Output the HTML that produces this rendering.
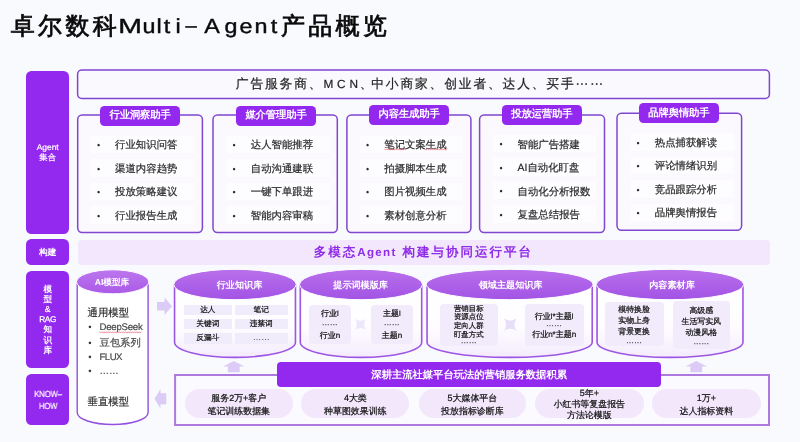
<!DOCTYPE html>
<html><head><meta charset="utf-8">
<style>
html,body{margin:0;padding:0;}
body{width:800px;height:442px;overflow:hidden;background:#f9fafe;font-family:"Liberation Sans",sans-serif;position:relative;color:#111;text-rendering:geometricPrecision;}
.abs{position:absolute;}
.title{position:absolute;left:10px;top:8.5px;font-size:26px;line-height:34px;letter-spacing:1.2px;color:#0a0a0a;white-space:nowrap;-webkit-text-stroke:0.35px #0a0a0a;}
.title .en{letter-spacing:2.5px;}
.side{position:absolute;left:26.4px;width:42.6px;background:#9329ee;-webkit-text-stroke:0.2px #fff;border-radius:5.5px;color:#fff;font-size:8.4px;font-weight:normal;display:flex;align-items:center;justify-content:center;text-align:center;line-height:10.5px;}
.topbox{position:absolute;left:76.8px;top:69.8px;width:690.5px;height:26.2px;border:1.8px solid transparent;border-radius:6px;background:transparent;display:flex;align-items:center;justify-content:center;font-size:12.8px;letter-spacing:1.8px;color:#222;-webkit-text-stroke:0.2px #222;white-space:nowrap;box-sizing:content-box;}
.card{display:none;}
.hdr{position:absolute;background:#9329ee;color:#fff;font-weight:bold;font-size:10.4px;border-radius:4.5px;display:flex;align-items:center;justify-content:center;white-space:nowrap;letter-spacing:-0.2px;}
.row{position:absolute;background:#fdfdff;height:17.5px;font-size:10.4px;line-height:17.5px;color:#2a2a2a;white-space:nowrap;}
.row u{text-decoration:none;}
.row .b{position:absolute;left:6px;top:1.6px;font-size:9px;}
.row .t{position:absolute;left:24.2px;top:1.8px;-webkit-text-stroke:0.2px #2a2a2a;}
.build{position:absolute;left:78px;top:240.2px;width:692px;height:25.3px;padding-bottom:0.8px;padding-right:1.4px;box-sizing:border-box;background:#f3e7fd;border-radius:4px;display:flex;align-items:center;justify-content:center;color:#8f2ce8;font-weight:bold;font-size:12.5px;letter-spacing:2px;white-space:nowrap;}
.cyt{position:absolute;color:#fff;font-weight:bold;font-size:10px;text-align:center;white-space:nowrap;line-height:12px;letter-spacing:0;}
.cell{position:absolute;background:#f1ecfb;font-size:7.7px;font-weight:normal;-webkit-text-stroke:0.22px #111;color:#111;text-align:center;white-space:nowrap;}
.panel{position:absolute;background:#f2ebfb;border-radius:4px;font-size:8.3px;font-weight:normal;-webkit-text-stroke:0.22px #111;color:#111;text-align:center;white-space:nowrap;}
.panel div{position:absolute;left:0;right:0;text-align:center;line-height:10px;}
.kh{display:none;}
.banner{position:absolute;left:277px;top:361.5px;width:384.3px;height:25.2px;background:#9329ee;border-radius:4px;color:#fff;font-weight:bold;font-size:10.3px;display:flex;align-items:center;justify-content:center;white-space:nowrap;letter-spacing:0px;padding-top:3.6px;box-sizing:border-box;}
.pill{position:absolute;background:#f2e7fb;border-radius:15px;font-size:8.95px;font-weight:normal;-webkit-text-stroke:0.22px #111;color:#111;text-align:center;white-space:nowrap;}
.pill div{position:absolute;left:0;right:0;text-align:center;line-height:12px;}
.m{position:absolute;font-size:10.5px;color:#444;white-space:nowrap;line-height:14px;}
</style></head><body><div id="wrap" style="position:absolute;left:0;top:0;width:800px;height:442px;will-change:transform;">

<div class="title" style="font-size:24px;letter-spacing:3.3px;left:10.8px;top:10.2px;-webkit-text-stroke:0.75px #0a0a0a;">卓尔数科</div>
<div class="title" style="left:115px;top:9.9px;width:30px;text-align:center;letter-spacing:0;font-size:20.3px;-webkit-text-stroke:0.4px #0a0a0a;transform:scaleX(1.4);">M</div>
<div class="title" style="left:133.75px;top:9.9px;width:30px;text-align:center;letter-spacing:0;font-size:20.3px;-webkit-text-stroke:0.4px #0a0a0a;transform:scaleX(1.15);">u</div>
<div class="title" style="left:144px;top:9.9px;width:30px;text-align:center;letter-spacing:0;font-size:20.3px;-webkit-text-stroke:0.4px #0a0a0a;transform:scaleX(1.15);">l</div>
<div class="title" style="left:152.4px;top:9.9px;width:30px;text-align:center;letter-spacing:0;font-size:20.3px;-webkit-text-stroke:0.4px #0a0a0a;transform:scaleX(1.15);">t</div>
<div class="title" style="left:162.5px;top:9.9px;width:30px;text-align:center;letter-spacing:0;font-size:20.3px;-webkit-text-stroke:0.4px #0a0a0a;transform:scaleX(1.15);">i</div>
<div class="title" style="left:176.25px;top:8.9px;width:30px;text-align:center;letter-spacing:0;font-size:20.3px;-webkit-text-stroke:0.4px #0a0a0a;transform:scaleX(1.0);">–</div>
<div class="title" style="left:196.9px;top:9.9px;width:30px;text-align:center;letter-spacing:0;font-size:20.3px;-webkit-text-stroke:0.4px #0a0a0a;transform:scaleX(1.15);">A</div>
<div class="title" style="left:215.5px;top:9.9px;width:30px;text-align:center;letter-spacing:0;font-size:20.3px;-webkit-text-stroke:0.4px #0a0a0a;transform:scaleX(1.15);">g</div>
<div class="title" style="left:230.5px;top:9.9px;width:30px;text-align:center;letter-spacing:0;font-size:20.3px;-webkit-text-stroke:0.4px #0a0a0a;transform:scaleX(1.15);">e</div>
<div class="title" style="left:246px;top:9.9px;width:30px;text-align:center;letter-spacing:0;font-size:20.3px;-webkit-text-stroke:0.4px #0a0a0a;transform:scaleX(1.15);">n</div>
<div class="title" style="left:258.75px;top:9.9px;width:30px;text-align:center;letter-spacing:0;font-size:20.3px;-webkit-text-stroke:0.4px #0a0a0a;transform:scaleX(1.15);">t</div>
<div class="title" style="font-size:24px;letter-spacing:3.3px;left:281px;top:10.2px;-webkit-text-stroke:0.75px #0a0a0a;">产品概览</div>
<svg class="abs" style="left:0;top:0;" width="800" height="442" viewBox="0 0 800 442">
<rect x="77.6" y="70.1" width="691.8" height="28.3" rx="4.2" fill="#f9f9fe" stroke="#8046cf" stroke-width="1.5"/>
<rect x="77.7" y="114.9" width="124.7" height="117.5" rx="4.4" fill="#fbf9fe" stroke="#8046cf" stroke-width="1.5"/>
<rect x="213" y="114.9" width="124.3" height="117.5" rx="4.4" fill="#fbf9fe" stroke="#8046cf" stroke-width="1.5"/>
<rect x="346.9" y="114.9" width="124.0" height="117.5" rx="4.4" fill="#fbf9fe" stroke="#8046cf" stroke-width="1.5"/>
<rect x="479.6" y="114.9" width="124.9" height="117.5" rx="4.4" fill="#fbf9fe" stroke="#8046cf" stroke-width="1.5"/>
<rect x="617" y="113.2" width="124.6" height="117.0" rx="4.4" fill="#fbf9fe" stroke="#8046cf" stroke-width="1.5"/>
<rect x="175.1" y="375" width="593.9" height="50" fill="#fbfaff" stroke="#af78dc" stroke-width="2"/>
</svg>
<div class="side" style="top:70.5px;height:163px;">Agent<br>集合</div>
<div class="side" style="top:239px;height:25.9px;font-weight:bold;-webkit-text-stroke:0;font-size:8.7px;">构建</div>
<div class="side" style="top:271px;height:96.5px;line-height:10.2px;font-size:8.6px;font-weight:bold;-webkit-text-stroke:0;"><div>模<br>型<br><span style="font-weight:normal;-webkit-text-stroke:0.25px #fff;">&amp;</span><br><span style="font-weight:normal;-webkit-text-stroke:0.25px #fff;font-size:8.3px;letter-spacing:-0.35px;">RAG</span><br>知<br>识<br>库</div></div>
<div class="side" style="top:373.5px;height:51px;line-height:12.3px;font-size:8.8px;letter-spacing:0;padding-top:2.2px;box-sizing:border-box;"><span style="display:inline-block;transform:scaleX(0.86);">KNOW–<br>HOW</span></div>
<div class="topbox"><span style="position:absolute;left:158px;top:0;line-height:26.6px;">广告服务商、<span style="font-size:11.8px;letter-spacing:3.9px;">MCN</span><span style="margin-left:-2.2px;margin-right:-3.2px;">、</span>中小商家、创业者、达人、买手⋯⋯</span></div>
<div class="card" style="left:77.3px;top:114.5px;width:125.5px;height:118.3px;"></div>
<div class="hdr" style="left:100.4px;top:105.5px;width:79.4px;height:20.1px;padding-top:0.6px;box-sizing:border-box;">行业洞察助手</div>
<div class="row" style="left:90.9px;top:135.7px;width:103px;"><span class="b">•</span><span class="t">行业知识问答</span></div>
<div class="row" style="left:90.9px;top:159.2px;width:103px;"><span class="b">•</span><span class="t">渠道内容趋势</span></div>
<div class="row" style="left:90.9px;top:182.7px;width:103px;"><span class="b">•</span><span class="t">投放策略建议</span></div>
<div class="row" style="left:90.9px;top:206.2px;width:103px;"><span class="b">•</span><span class="t">行业报告生成</span></div>
<div class="card" style="left:213px;top:114.5px;width:124.3px;height:118.3px;"></div>
<div class="hdr" style="left:236px;top:105.5px;width:80.0px;height:20.1px;padding-top:0.6px;box-sizing:border-box;">媒介管理助手</div>
<div class="row" style="left:226.6px;top:135.7px;width:103px;"><span class="b">•</span><span class="t">达人智能推荐</span></div>
<div class="row" style="left:226.6px;top:159.2px;width:103px;"><span class="b">•</span><span class="t">自动沟通建联</span></div>
<div class="row" style="left:226.6px;top:182.7px;width:103px;"><span class="b">•</span><span class="t">一键下单跟进</span></div>
<div class="row" style="left:226.6px;top:206.2px;width:103px;"><span class="b">•</span><span class="t">智能内容审稿</span></div>
<div class="card" style="left:346.5px;top:114.5px;width:124.5px;height:118.3px;"></div>
<div class="hdr" style="left:369.0px;top:104.5px;width:80.2px;height:20.1px;padding-top:0.6px;box-sizing:border-box;">内容生成助手</div>
<div class="row" style="left:360.1px;top:135.7px;width:103px;"><span class="b">•</span><span class="t"><u>笔记</u>文案<u>生成</u></span></div>
<div class="row" style="left:360.1px;top:159.2px;width:103px;"><span class="b">•</span><span class="t">拍摄脚本生成</span></div>
<div class="row" style="left:360.1px;top:182.7px;width:103px;"><span class="b">•</span><span class="t">图片视频生成</span></div>
<div class="row" style="left:360.1px;top:206.2px;width:103px;"><span class="b">•</span><span class="t">素材创意分析</span></div>
<div class="card" style="left:479.8px;top:114.5px;width:124.8px;height:118.3px;"></div>
<div class="hdr" style="left:501.7px;top:104.5px;width:80.2px;height:20.1px;padding-top:0.6px;box-sizing:border-box;">投放运营助手</div>
<div class="row" style="left:493.4px;top:134.9px;width:103px;"><span class="b">•</span><span class="t">智能广告搭建</span></div>
<div class="row" style="left:493.4px;top:158.4px;width:103px;"><span class="b">•</span><span class="t">AI自动化盯盘</span></div>
<div class="row" style="left:493.4px;top:181.9px;width:103px;"><span class="b">•</span><span class="t">自动化分析报数</span></div>
<div class="row" style="left:493.4px;top:205.4px;width:103px;"><span class="b">•</span><span class="t">复盘总结报告</span></div>
<div class="card" style="left:617px;top:112.8px;width:125.0px;height:117.6px;"></div>
<div class="hdr" style="left:638.9px;top:103.0px;width:80.1px;height:20.3px;padding-top:2.0px;box-sizing:border-box;">品牌舆情助手</div>
<div class="row" style="left:630.6px;top:133.2px;width:103px;"><span class="b">•</span><span class="t">热点捕获解读</span></div>
<div class="row" style="left:630.6px;top:156.7px;width:103px;"><span class="b">•</span><span class="t">评论情绪识别</span></div>
<div class="row" style="left:630.6px;top:180.2px;width:103px;"><span class="b">•</span><span class="t">竞品跟踪分析</span></div>
<div class="row" style="left:630.6px;top:203.7px;width:103px;"><span class="b">•</span><span class="t">品牌舆情报告</span></div>
<div class="build">多模态<span style="font-size:11.6px;letter-spacing:1.3px;margin-right:5.8px;">Agent</span>构建与协同运行平台</div>
<svg class="abs" style="left:0;top:0;" width="800" height="442" viewBox="0 0 800 442">
<defs>
<linearGradient id="eg" x1="0" y1="0" x2="0" y2="1"><stop offset="0" stop-color="#b970ec"/><stop offset="1" stop-color="#a253e5"/></linearGradient>
<linearGradient id="eg1" x1="0" y1="0" x2="0" y2="1"><stop offset="0" stop-color="#bc76ed"/><stop offset="1" stop-color="#aa5ae7"/></linearGradient>
<linearGradient id="bg" x1="0" y1="0" x2="0" y2="1"><stop offset="0" stop-color="#ffffff"/><stop offset="0.6" stop-color="#fefcff"/><stop offset="1" stop-color="#f4ebfd"/></linearGradient>
</defs>
<path d="M77.2,281.8 L77.2,412.5 A35.45,12.0 0 0 0 148.10000000000002,412.5 L148.10000000000002,281.8 Z" fill="#ffffff" stroke="none"/>
<path d="M77.2,281.8 L77.2,412.5 A35.45,12.0 0 0 0 148.10000000000002,412.5 L148.10000000000002,281.8" fill="none" stroke="#9150de" stroke-width="1.4"/>
<ellipse cx="112.65" cy="281.8" rx="36.150000000000006" ry="12.0" fill="url(#eg1)" stroke="#ffffff" stroke-width="1"/>
<path d="M174.55,284.5 L174.55,342.2 A60.45,15.199999999999989 0 0 0 295.45,342.2 L295.45,284.5 Z" fill="url(#bg)" stroke="none"/>
<path d="M174.55,284.5 L174.55,342.2 A60.45,15.199999999999989 0 0 0 295.45,342.2 L295.45,284.5" fill="none" stroke="#9d55e3" stroke-width="1.6"/>
<ellipse cx="235.0" cy="284.5" rx="61.25" ry="15.199999999999989" fill="url(#eg)" stroke="#ffffff" stroke-width="1"/>
<path d="M300.3,284.5 L300.3,342.2 A60.7,15.199999999999989 0 0 0 421.7,342.2 L421.7,284.5 Z" fill="url(#bg)" stroke="none"/>
<path d="M300.3,284.5 L300.3,342.2 A60.7,15.199999999999989 0 0 0 421.7,342.2 L421.7,284.5" fill="none" stroke="#9d55e3" stroke-width="1.6"/>
<ellipse cx="361.0" cy="284.5" rx="61.5" ry="15.199999999999989" fill="url(#eg)" stroke="#ffffff" stroke-width="1"/>
<path d="M427.05,284.5 L427.05,342.2 A82.575,15.199999999999989 0 0 0 592.2,342.2 L592.2,284.5 Z" fill="url(#bg)" stroke="none"/>
<path d="M427.05,284.5 L427.05,342.2 A82.575,15.199999999999989 0 0 0 592.2,342.2 L592.2,284.5" fill="none" stroke="#9d55e3" stroke-width="1.6"/>
<ellipse cx="509.625" cy="284.5" rx="83.375" ry="15.199999999999989" fill="url(#eg)" stroke="#ffffff" stroke-width="1"/>
<path d="M597.05,284.5 L597.05,342.2 A72.95,15.199999999999989 0 0 0 742.95,342.2 L742.95,284.5 Z" fill="url(#bg)" stroke="none"/>
<path d="M597.05,284.5 L597.05,342.2 A72.95,15.199999999999989 0 0 0 742.95,342.2 L742.95,284.5" fill="none" stroke="#9d55e3" stroke-width="1.6"/>
<ellipse cx="670.0" cy="284.5" rx="73.75" ry="15.199999999999989" fill="url(#eg)" stroke="#ffffff" stroke-width="1"/>
<path d="M157,302 L164.5,302 L164.5,297.5 L172,306.3 L164.5,315 L164.5,310.5 L157,310.5 Z" fill="#dbcbf6"/>
<path d="M233.75,361 L244.55,366.5 L239.65,366.5 L239.65,372.2 L227.85,372.2 L227.85,366.5 L222.95,366.5 Z" fill="#dbcbf6"/>
<path d="M696.3,361 L707.0999999999999,366.5 L702.1999999999999,366.5 L702.1999999999999,372.2 L690.4,372.2 L690.4,366.5 L685.5,366.5 Z" fill="#dbcbf6"/>
<path d="M154.5,398.8 L160.5,389 L160.5,393.3 L166.3,393.3 L166.3,404.3 L160.5,404.3 L160.5,408.6 Z" fill="#dbcbf6"/>
<path d="M354.9,318.7 Q360.5,322.62 366.1,318.7 Q362.18,324.3 366.1,329.90000000000003 Q360.5,325.98 354.9,329.90000000000003 Q358.82,324.3 354.9,318.7 Z" fill="#ece7fa"/>
<path d="M503.90000000000003,318.20000000000005 Q510.3,322.68 516.7,318.20000000000005 Q512.22,324.6 516.7,331.0 Q510.3,326.52000000000004 503.90000000000003,331.0 Q508.38,324.6 503.90000000000003,318.20000000000005 Z" fill="#e7dff7"/>
<polyline points="99.50,331.70 100.60,333.10 101.70,331.70 102.80,333.10 103.90,331.70 105.00,333.10 106.10,331.70 107.20,333.10 108.30,331.70 109.40,333.10 110.50,331.70 111.60,333.10 112.70,331.70 113.80,333.10 114.90,331.70 116.00,333.10 117.10,331.70 118.20,333.10 119.30,331.70 120.40,333.10 121.50,331.70 122.60,333.10 123.70,331.70 124.80,333.10 125.90,331.70 127.00,333.10 128.10,331.70 129.20,333.10 130.30,331.70 131.40,333.10 132.50,331.70 133.60,333.10 134.70,331.70 135.80,333.10 136.90,331.70 138.00,333.10 139.10,331.70 140.20,333.10 141.30,331.70" fill="none" stroke="#e9586e" stroke-width="0.6"/>
<polyline points="384.50,148.70 385.60,150.10 386.70,148.70 387.80,150.10 388.90,148.70 390.00,150.10 391.10,148.70 392.20,150.10 393.30,148.70 394.40,150.10 395.50,148.70 396.60,150.10 397.70,148.70 398.80,150.10 399.90,148.70 401.00,150.10 402.10,148.70 403.20,150.10 404.30,148.70 405.40,150.10" fill="none" stroke="#e9586e" stroke-width="0.6"/>
<polyline points="425.00,148.70 426.10,150.10 427.20,148.70 428.30,150.10 429.40,148.70 430.50,150.10 431.60,148.70 432.70,150.10 433.80,148.70 434.90,150.10 436.00,148.70 437.10,150.10 438.20,148.70 439.30,150.10 440.40,148.70 441.50,150.10 442.60,148.70 443.70,150.10 444.80,148.70 445.90,150.10 447.00,148.70" fill="none" stroke="#e9586e" stroke-width="0.6"/>
</svg>
<div class="cyt" style="left:51.900000000000006px;width:120px;top:276px;font-size:8.6px;">AI模型库</div>
<div class="cyt" style="left:179.5px;width:120px;top:278.5px;font-size:9.1px;">行业知识库</div>
<div class="cyt" style="left:300.6px;width:120px;top:278.5px;font-size:9.1px;">提示词模版库</div>
<div class="cyt" style="left:450.6px;width:120px;top:278.5px;font-size:9.1px;">领域主题知识库</div>
<div class="cyt" style="left:612px;width:120px;top:278.5px;font-size:9.1px;">内容素材库</div>
<div class="m" style="left:87.5px;top:306.5px;font-size:10.4px;color:#2e2e2e;-webkit-text-stroke:0.2px #2e2e2e;">通用模型</div>
<div class="m" style="left:88.3px;top:321.3px;font-size:9.5px;color:#333;">•</div><div class="m" style="left:99.5px;top:321.3px;color:#4a4a4a;-webkit-text-stroke:0.2px #4a4a4a;font-size:9.6px;letter-spacing:-0.22px;"><span>DeepSeek</span></div>
<div class="m" style="left:88.3px;top:336.8px;font-size:9.5px;color:#333;">•</div><div class="m" style="left:99.5px;top:336.8px;color:#4a4a4a;-webkit-text-stroke:0.2px #4a4a4a;font-size:10.3px;letter-spacing:0px;"><span>豆包系列</span></div>
<div class="m" style="left:88.3px;top:351.2px;font-size:9.5px;color:#333;">•</div><div class="m" style="left:99.5px;top:351.2px;color:#4a4a4a;-webkit-text-stroke:0.2px #4a4a4a;font-size:9.6px;letter-spacing:-0.5px;"><span>FLUX</span></div>
<div class="m" style="left:88.3px;top:364.6px;font-size:9.5px;color:#333;">•</div><div class="m" style="left:99.5px;top:364.6px;color:#4a4a4a;-webkit-text-stroke:0.2px #4a4a4a;font-size:9.6px;letter-spacing:0px;"><span>……</span></div>
<div class="m" style="left:87.5px;top:395.6px;font-size:10.4px;color:#2e2e2e;-webkit-text-stroke:0.2px #2e2e2e;">垂直模型</div>
<div class="cell" style="left:184px;top:304.5px;width:47.7px;height:10.5px;line-height:10.5px;">达人</div>
<div class="cell" style="left:234.5px;top:304.5px;width:53.5px;height:10.5px;line-height:10.5px;">笔记</div>
<div class="cell" style="left:184px;top:318.8px;width:47.7px;height:10.5px;line-height:10.5px;">关键词</div>
<div class="cell" style="left:234.5px;top:318.8px;width:53.5px;height:10.5px;line-height:10.5px;">违禁词</div>
<div class="cell" style="left:184px;top:333.1px;width:47.7px;height:10.5px;line-height:10.5px;">反漏斗</div>
<div class="cell" style="left:234.5px;top:333.1px;width:53.5px;height:10.5px;line-height:10.5px;"><span style="color:#444;font-weight:normal;position:relative;top:-1.2px;font-size:8.5px;-webkit-text-stroke:0;">……</span></div>
<div class="panel" style="left:308.75px;top:304.5px;width:42.0px;height:39.2px;font-size:8.0px;"><div style="top:4.6px;">行业<span style="font-weight:normal;font-size:0.92em;">l</span></div><div style="top:13.8px;color:#444;font-weight:normal;font-size:8px;-webkit-text-stroke:0.25px #555;">……</div><div style="top:26.9px;">行业<span style="font-size:1em;letter-spacing:-0.3px;">n</span></div></div>
<div class="panel" style="left:370.5px;top:304.5px;width:42.5px;height:39.2px;font-size:8.0px;"><div style="top:4.6px;">主题<span style="font-weight:normal;font-size:0.92em;">l</span></div><div style="top:13.8px;color:#444;font-weight:normal;font-size:8px;-webkit-text-stroke:0.25px #555;">……</div><div style="top:26.9px;">主题<span style="font-size:1em;letter-spacing:-0.3px;">n</span></div></div>
<div class="panel" style="left:439.5px;top:303.75px;width:58.5px;height:42.5px;font-size:7.4px;"><div style="top:-0.2px;">营销目标</div><div style="top:8.2px;">资源点位</div><div style="top:16.9px;">定向人群</div><div style="top:26.4px;">盯盘方式</div><div style="top:31.9px;color:#444;font-weight:normal;font-size:8px;-webkit-text-stroke:0.25px #555;">……</div></div>
<div class="panel" style="left:524.5px;top:303.75px;width:59.2px;height:42.5px;font-size:8.1px;"><div style="top:7.9px;">行业<span style="font-weight:normal;font-size:0.92em;">l</span><span style="font-size:1em;">*</span>主题<span style="font-weight:normal;font-size:0.92em;">l</span></div><div style="top:15.2px;color:#444;font-weight:normal;font-size:8px;-webkit-text-stroke:0.25px #555;">……</div><div style="top:26.2px;">行业<span style="font-size:1em;letter-spacing:-0.3px;">n</span><span style="font-size:1em;">*</span>主题<span style="font-size:1em;letter-spacing:-0.3px;">n</span></div></div>
<div class="panel" style="left:604.5px;top:302px;width:59.2px;height:44.2px;font-size:7.9px;"><div style="top:2.5px;">模特换脸</div><div style="top:13.7px;">实物上身</div><div style="top:24.5px;">背景更换</div><div style="top:34.0px;color:#444;font-weight:normal;font-size:8px;-webkit-text-stroke:0.25px #555;">……</div></div>
<div class="panel" style="left:672.5px;top:301.25px;width:57.5px;height:47.5px;font-size:7.9px;"><div style="top:4.6px;">高级感</div><div style="top:15.4px;">生活写实风</div><div style="top:26.6px;">动漫风格</div><div style="top:35.9px;color:#444;font-weight:normal;font-size:8px;-webkit-text-stroke:0.25px #555;">……</div></div>
<div class="kh"></div>
<div class="banner">深耕主流社媒平台玩法的营销服务数据积累</div>
<div class="pill" style="left:184.5px;top:388.75px;width:108.5px;height:28.8px;"><div style="top:3.2px;">服务2万+客户</div><div style="top:15.9px;">笔记训练数据集</div></div>
<div class="pill" style="left:301.4px;top:388.75px;width:107.9px;height:28.8px;"><div style="top:3.2px;">4大类</div><div style="top:15.9px;">种草图效果训练</div></div>
<div class="pill" style="left:418.8px;top:388.75px;width:107.2px;height:28.8px;"><div style="top:3.2px;">5大媒体平台</div><div style="top:15.9px;">投放指标诊断库</div></div>
<div class="pill" style="left:535px;top:388.75px;width:108.6px;height:29.4px;"><div style="top:-2.2px;">5年+</div><div style="top:8.8px;">小红书等复盘报告</div><div style="top:19.8px;">方法论模版</div></div>
<div class="pill" style="left:652px;top:388.75px;width:108.7px;height:29.4px;"><div style="top:3.2px;">1万+</div><div style="top:15.9px;">达人指标资料</div></div>
</div></body></html>
